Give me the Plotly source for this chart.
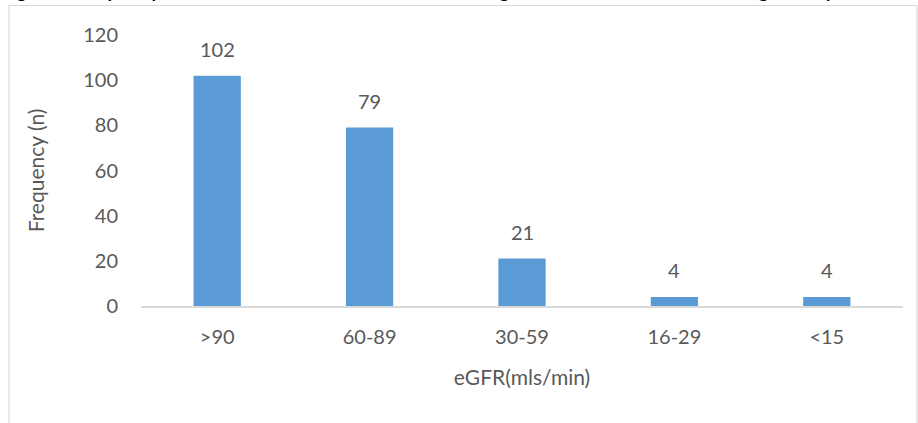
import plotly.graph_objects as go

# eGFR bands and number of patients in each
categories = [">90", "60-89", "30-59", "16-29", "<15"]
counts = [102, 79, 21, 4, 4]
y_ticks = [0, 20, 40, 60, 80, 100, 120]

title_text = ("Figure 1: Frequency distribution of the cohort across eGFR ranges "
              "and their classification among all the patients")

W, H = 918, 423
L, R, T, B = 141, 15, 35, 117
plot_w = W - L - R
plot_h = H - T - B


def px_x(px):
    return (px - L) / plot_w


def px_y(py):
    return (H - B - py) / plot_h


TEXT = "#595959"
FONT = "Lato"

fig = go.Figure(
    go.Bar(
        x=categories,
        y=counts,
        width=0.31,
        marker=dict(color="#5B9BD5", line=dict(width=0)),
        hoverinfo="x+y",
    )
)

# value labels above each bar
for cat, val in zip(categories, counts):
    fig.add_annotation(
        x=cat, y=val, xref="x", yref="y",
        text=str(val), showarrow=False,
        yanchor="bottom", yshift=13,
        font=dict(family=FONT, size=20, color=TEXT),
    )

# caption running off the top of the page
fig.add_annotation(
    x=px_x(0), y=px_y(3.8), xref="paper", yref="paper",
    xanchor="left", yanchor="bottom",
    text="<b>" + title_text + "</b>", showarrow=False,
    font=dict(family=FONT, size=18, color="#000000"),
)

# chart frame
fig.add_shape(
    type="rect", xref="paper", yref="paper",
    x0=px_x(9), x1=px_x(917), y0=px_y(440), y1=px_y(5.5),
    line=dict(color="#D9D9D9", width=1.2), layer="below",
)

fig.update_layout(
    width=W, height=H,
    margin=dict(l=L, r=R, t=T, b=B, pad=0),
    paper_bgcolor="white", plot_bgcolor="white",
    showlegend=False,
    font=dict(family=FONT, color=TEXT),
    xaxis=dict(
        showgrid=False, showline=True, linecolor="#D9D9D9", linewidth=1.5,
        ticks="", tickfont=dict(size=20, color=TEXT), ticklabelstandoff=12,
        title=dict(text="eGFR(mls/min)", font=dict(size=21, color=TEXT), standoff=24),
    ),
    yaxis=dict(
        range=[0, 120], tickvals=y_ticks, showgrid=False, zeroline=False,
        showline=False, ticks="", tickfont=dict(size=20, color=TEXT),
        ticklabelstandoff=22,
        title=dict(text="Frequency (n)", font=dict(size=21, color=TEXT), standoff=32),
    ),
)

fig.write_html("out.html")
